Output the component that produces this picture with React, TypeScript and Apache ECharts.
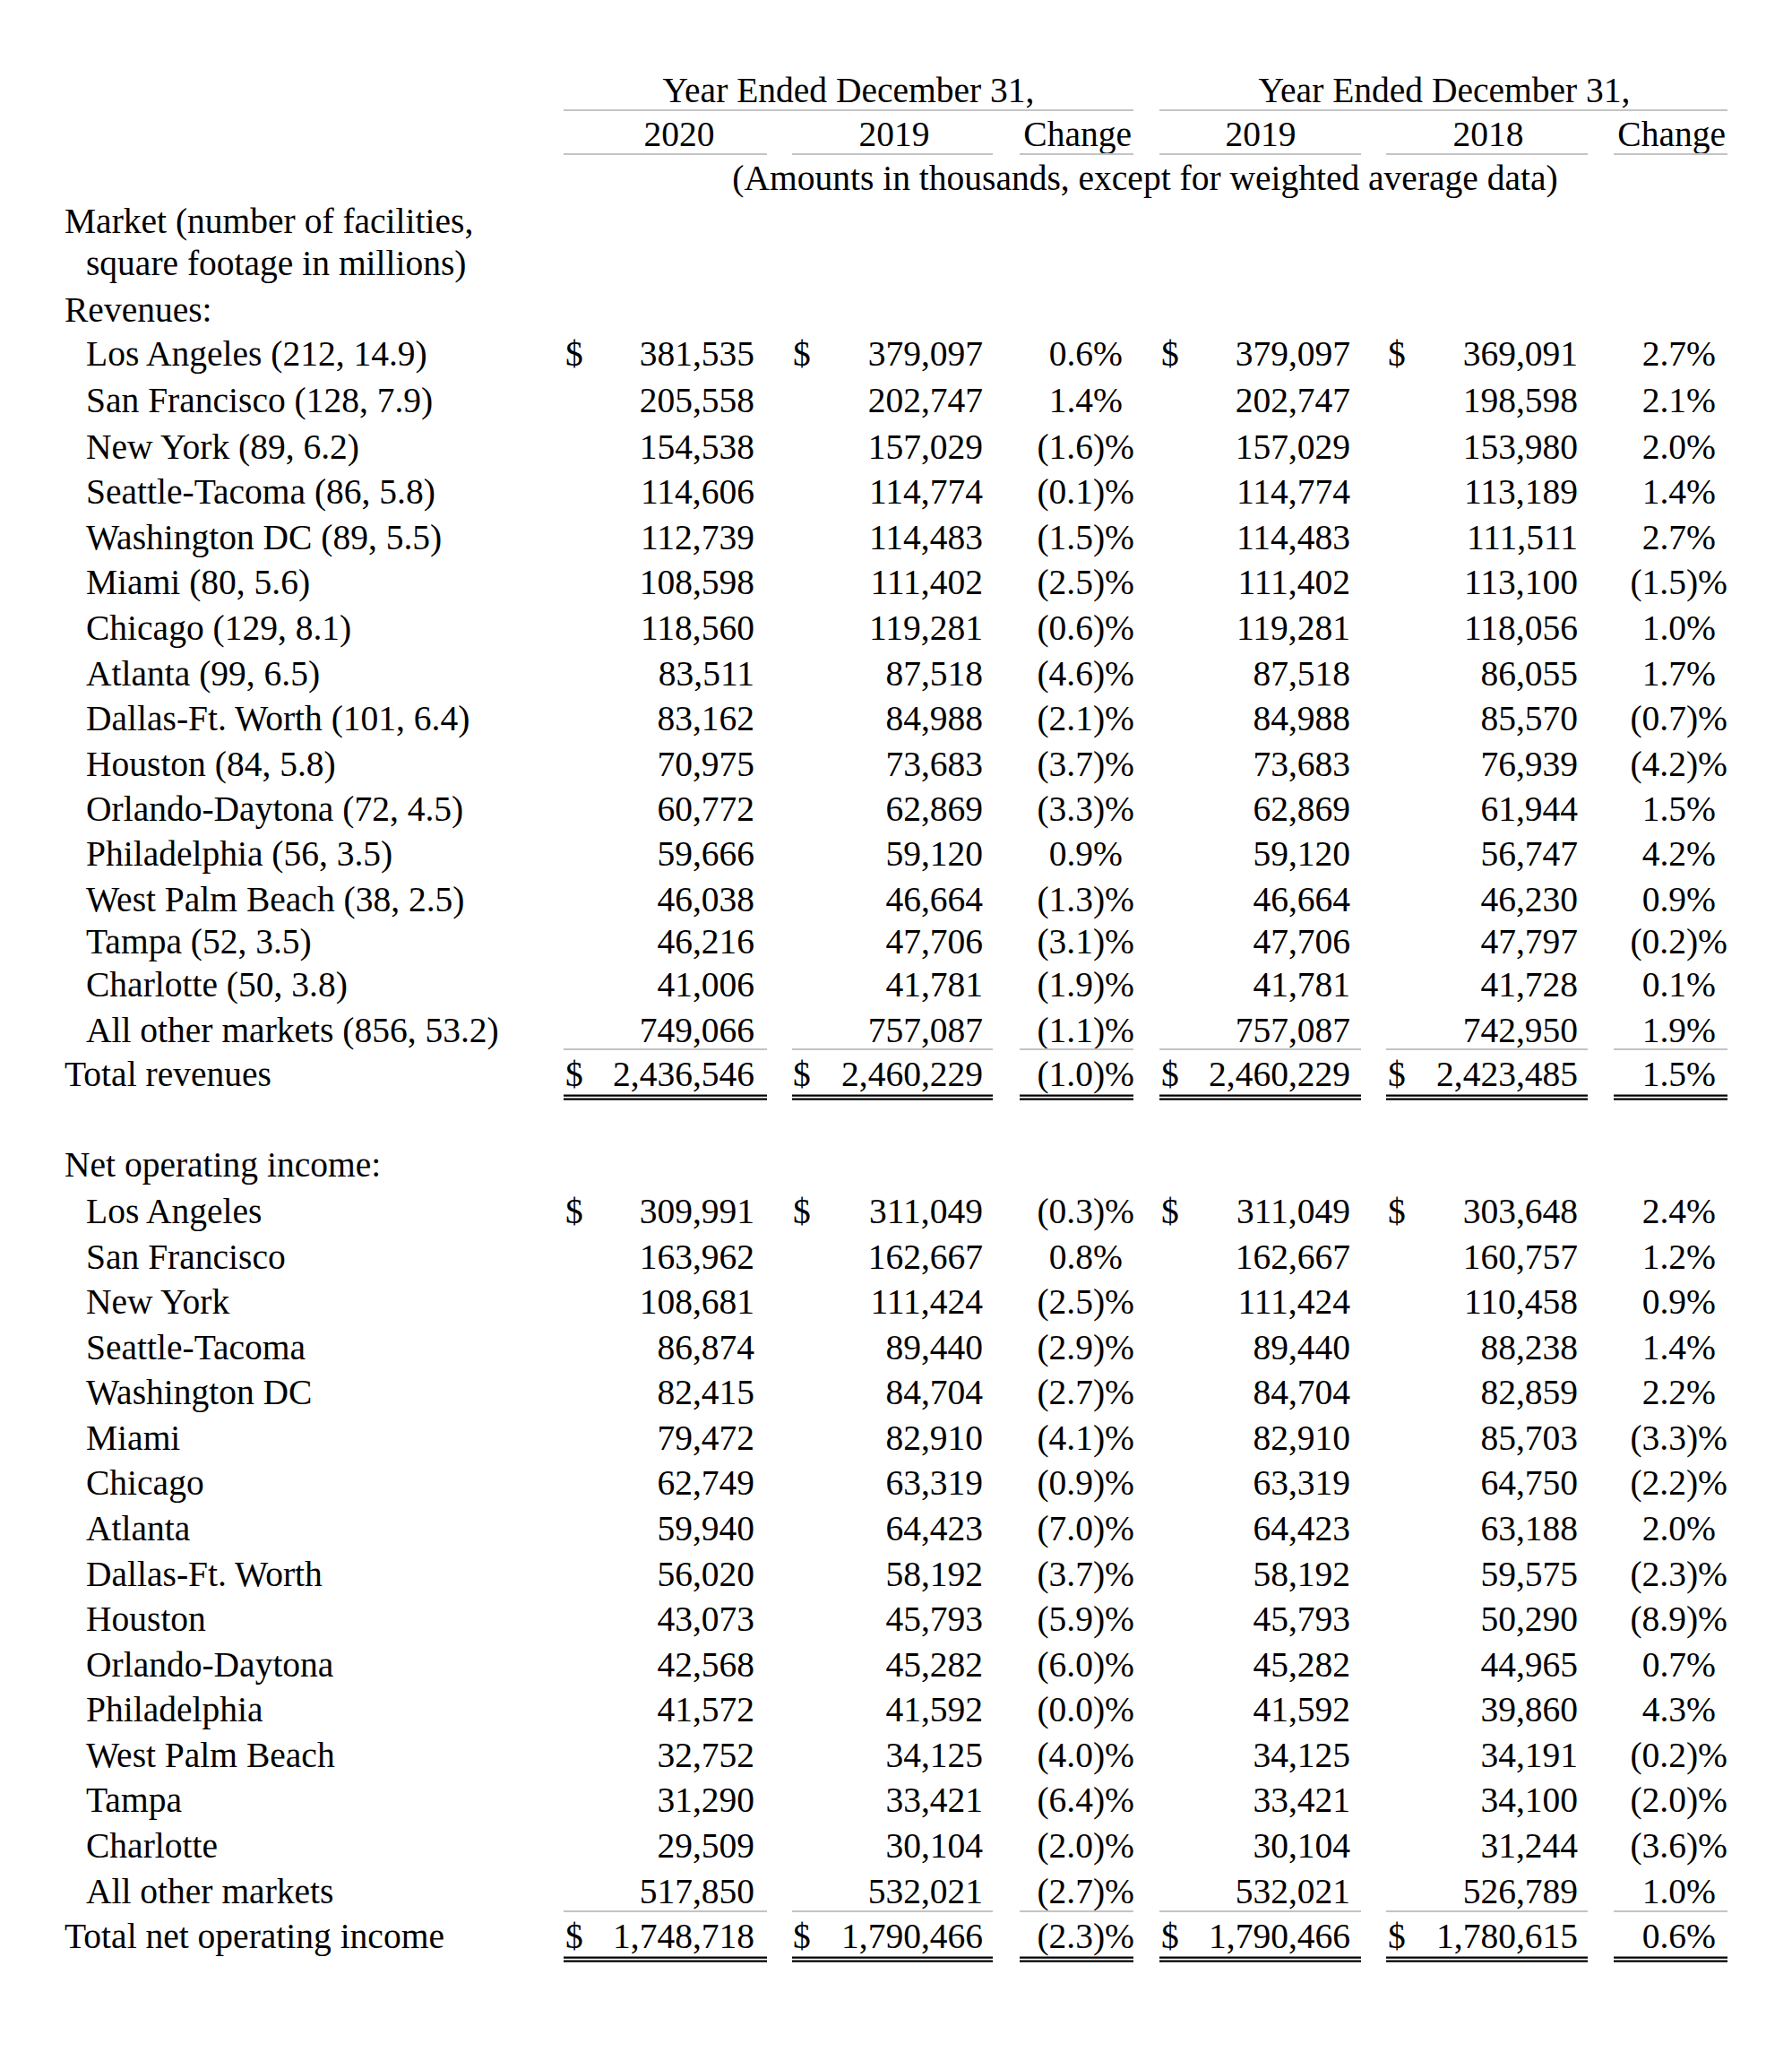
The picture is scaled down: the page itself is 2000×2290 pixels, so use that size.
import React, { useEffect, useRef } from "react";
import * as echarts from "echarts";

// ---------- DATA ----------
const headerGroup = "Year Ended December 31,";
const yearLabelsA = ["2020", "2019", "Change"];
const yearLabelsB = ["2019", "2018", "Change"];
const unitNote = "(Amounts in thousands, except for weighted average data)";
const marketHeader1 = "Market (number of facilities,";
const marketHeader2 = "square footage in millions)";
const revenuesTitle = "Revenues:";
const noiTitle = "Net operating income:";
const totalRevenuesLabel = "Total revenues";
const totalNoiLabel = "Total net operating income";

const markets = [
  "Los Angeles", "San Francisco", "New York", "Seattle-Tacoma", "Washington DC", "Miami",
  "Chicago", "Atlanta", "Dallas-Ft. Worth", "Houston", "Orlando-Daytona", "Philadelphia",
  "West Palm Beach", "Tampa", "Charlotte", "All other markets",
];
const facilities = [212, 128, 89, 86, 89, 80, 129, 99, 101, 84, 72, 56, 38, 52, 50, 856];
const sqftMillions = ["14.9", "7.9", "6.2", "5.8", "5.5", "5.6", "8.1", "6.5", "6.4", "5.8", "4.5", "3.5", "2.5", "3.5", "3.8", "53.2"];

const revenue2020 = [381535, 205558, 154538, 114606, 112739, 108598, 118560, 83511, 83162, 70975, 60772, 59666, 46038, 46216, 41006, 749066];
const revenue2019 = [379097, 202747, 157029, 114774, 114483, 111402, 119281, 87518, 84988, 73683, 62869, 59120, 46664, 47706, 41781, 757087];
const revenue2018 = [369091, 198598, 153980, 113189, 111511, 113100, 118056, 86055, 85570, 76939, 61944, 56747, 46230, 47797, 41728, 742950];
const revenueChange2020 = [0.6, 1.4, -1.6, -0.1, -1.5, -2.5, -0.6, -4.6, -2.1, -3.7, -3.3, 0.9, -1.3, -3.1, -1.9, -1.1];
const revenueChange2019 = [2.7, 2.1, 2.0, 1.4, 2.7, -1.5, 1.0, 1.7, -0.7, -4.2, 1.5, 4.2, 0.9, -0.2, 0.1, 1.9];
const revenueTotals = [2436546, 2460229, -1.0, 2460229, 2423485, 1.5];

const noi2020 = [309991, 163962, 108681, 86874, 82415, 79472, 62749, 59940, 56020, 43073, 42568, 41572, 32752, 31290, 29509, 517850];
const noi2019 = [311049, 162667, 111424, 89440, 84704, 82910, 63319, 64423, 58192, 45793, 45282, 41592, 34125, 33421, 30104, 532021];
const noi2018 = [303648, 160757, 110458, 88238, 82859, 85703, 64750, 63188, 59575, 50290, 44965, 39860, 34191, 34100, 31244, 526789];
const noiChange2020 = [-0.3, 0.8, -2.5, -2.9, -2.7, -4.1, -0.9, -7.0, -3.7, -5.9, -6.0, -0.0, -4.0, -6.4, -2.0, -2.7];
const noiChange2019 = [2.4, 1.2, 0.9, 1.4, 2.2, -3.3, -2.2, 2.0, -2.3, -8.9, 0.7, 4.3, -0.2, -2.0, -3.6, 1.0];
const noiTotals = [1748718, 1790466, -2.3, 1790466, 1780615, 0.6];

// ---------- LAYOUT ----------
const FONT_FAMILY = "Liberation Serif";
const FONT_SIZE = 39.5;
const GRAY = "#c4c4c4";
const LEFT_X = 72;
const INDENT_X = 96;
// row centre positions (pixels) of the revenue block, incl. the total row
const revRowY = [395, 447, 499, 549, 600, 650, 701, 752, 802, 853, 903, 953, 1004, 1051, 1099, 1150, 1199];
const noiRowY0 = 1352;
const noiRowStep = 50.57;
const moneyCols = [
  { dollar: 631, right: 842, l0: 629, l1: 856 },
  { dollar: 885, right: 1097, l0: 884, l1: 1108 },
  null,
  { dollar: 1296, right: 1507, l0: 1294, l1: 1519 },
  { dollar: 1549, right: 1761, l0: 1547, l1: 1772 },
  null,
];
const changeCols = [
  { right: 1266, l0: 1138, l1: 1265 },
  { right: 1928, l0: 1801, l1: 1928 },
];

function fmtNum(v: number) {
  return v.toLocaleString("en-US");
}
function isNeg(v: number) {
  return v < 0 || Object.is(v, -0);
}
function fmtPct(v: number) {
  const s = Math.abs(v).toFixed(1);
  return isNeg(v) ? `(${s})%` : `${s}%`;
}

function txt(text: string, x: number, y: number, align: string = "left") {
  return {
    type: "text",
    x,
    y,
    silent: true,
    style: {
      text,
      fontFamily: FONT_FAMILY,
      fontSize: FONT_SIZE,
      fill: "#000",
      align,
      textAlign: align,
      verticalAlign: "middle",
      textVerticalAlign: "middle",
    },
  };
}
function rect(x0: number, x1: number, y: number, h: number, color: string) {
  return {
    type: "rect",
    silent: true,
    shape: { x: x0, y, width: x1 - x0, height: h },
    style: { fill: color },
  };
}

function buildSection(
  els: any[],
  yOf: (i: number) => number,
  labels: string[],
  a: number[],
  b: number[],
  chA: number[],
  c: number[],
  chB: number[],
  totals: number[],
  totalLabel: string
) {
  const n = labels.length;
  const putRow = (y: number, vals: number[], withDollar: boolean) => {
    [0, 1, 3, 4].forEach((ci) => {
      const col = moneyCols[ci]!;
      if (withDollar) els.push(txt("$", col.dollar, y, "left"));
      els.push(txt(fmtNum(vals[ci]), col.right, y, "right"));
    });
    [2, 5].forEach((ci, k) => {
      const col = changeCols[k];
      const v = vals[ci];
      els.push(txt(fmtPct(v), isNeg(v) ? col.right : col.right - 13, y, "right"));
    });
  };
  for (let i = 0; i < n; i++) {
    const y = yOf(i);
    els.push(txt(labels[i], INDENT_X, y, "left"));
    putRow(y, [a[i], b[i], chA[i], b[i], c[i], chB[i]], i === 0);
  }
  const ty = yOf(n);
  els.push(txt(totalLabel, LEFT_X, ty, "left"));
  putRow(ty, totals, true);
  const spans = [
    [moneyCols[0]!.l0, moneyCols[0]!.l1],
    [moneyCols[1]!.l0, moneyCols[1]!.l1],
    [changeCols[0].l0, changeCols[0].l1],
    [moneyCols[3]!.l0, moneyCols[3]!.l1],
    [moneyCols[4]!.l0, moneyCols[4]!.l1],
    [changeCols[1].l0, changeCols[1].l1],
  ];
  spans.forEach(([x0, x1]) => {
    els.push(rect(x0, x1, ty - 29, 2, GRAY));
    els.push(rect(x0, x1, ty + 22.5, 2.2, "#000"));
    els.push(rect(x0, x1, ty + 26.5, 2.2, "#000"));
  });
}

function buildGraphics() {
  const els: any[] = [];
  // header
  els.push(txt(headerGroup, 947, 101, "center"));
  els.push(txt(headerGroup, 1612, 101, "center"));
  els.push(rect(629, 1265, 122, 2, GRAY));
  els.push(rect(1294, 1928, 122, 2, GRAY));
  els.push(txt(yearLabelsA[0], 758, 150, "center"));
  els.push(txt(yearLabelsA[1], 998, 150, "center"));
  els.push(txt(yearLabelsA[2], 1263, 150, "right"));
  els.push(txt(yearLabelsB[0], 1407, 150, "center"));
  els.push(txt(yearLabelsB[1], 1661, 150, "center"));
  els.push(txt(yearLabelsB[2], 1926, 150, "right"));
  [
    [629, 856], [884, 1108], [1138, 1265], [1294, 1519], [1547, 1772], [1801, 1928],
  ].forEach(([x0, x1]) => els.push(rect(x0, x1, 171, 2, GRAY)));
  els.push(txt(unitNote, 1278, 199, "center"));
  els.push(txt(marketHeader1, LEFT_X, 247, "left"));
  els.push(txt(marketHeader2, INDENT_X, 294, "left"));
  els.push(txt(revenuesTitle, LEFT_X, 346, "left"));

  const revLabels = markets.map((m, i) => `${m} (${facilities[i]}, ${sqftMillions[i]})`);
  buildSection(els, (i) => revRowY[i], revLabels, revenue2020, revenue2019, revenueChange2020, revenue2018, revenueChange2019, revenueTotals, totalRevenuesLabel);

  els.push(txt(noiTitle, LEFT_X, 1300, "left"));
  buildSection(els, (i) => noiRowY0 + i * noiRowStep, markets, noi2020, noi2019, noiChange2020, noi2018, noiChange2019, noiTotals, totalNoiLabel);
  return els;
}

export default function App() {
  const ref = useRef<HTMLDivElement>(null);
  useEffect(() => {
    document.body.style.margin = "0";
    const chart = echarts.init(ref.current!, null, { renderer: "svg" });
    chart.setOption({
      animation: false,
      backgroundColor: "#ffffff",
      graphic: { elements: buildGraphics() },
    });
    return () => chart.dispose();
  }, []);
  return <div ref={ref} style={{ width: 2000, height: 2290 }} />;
}
